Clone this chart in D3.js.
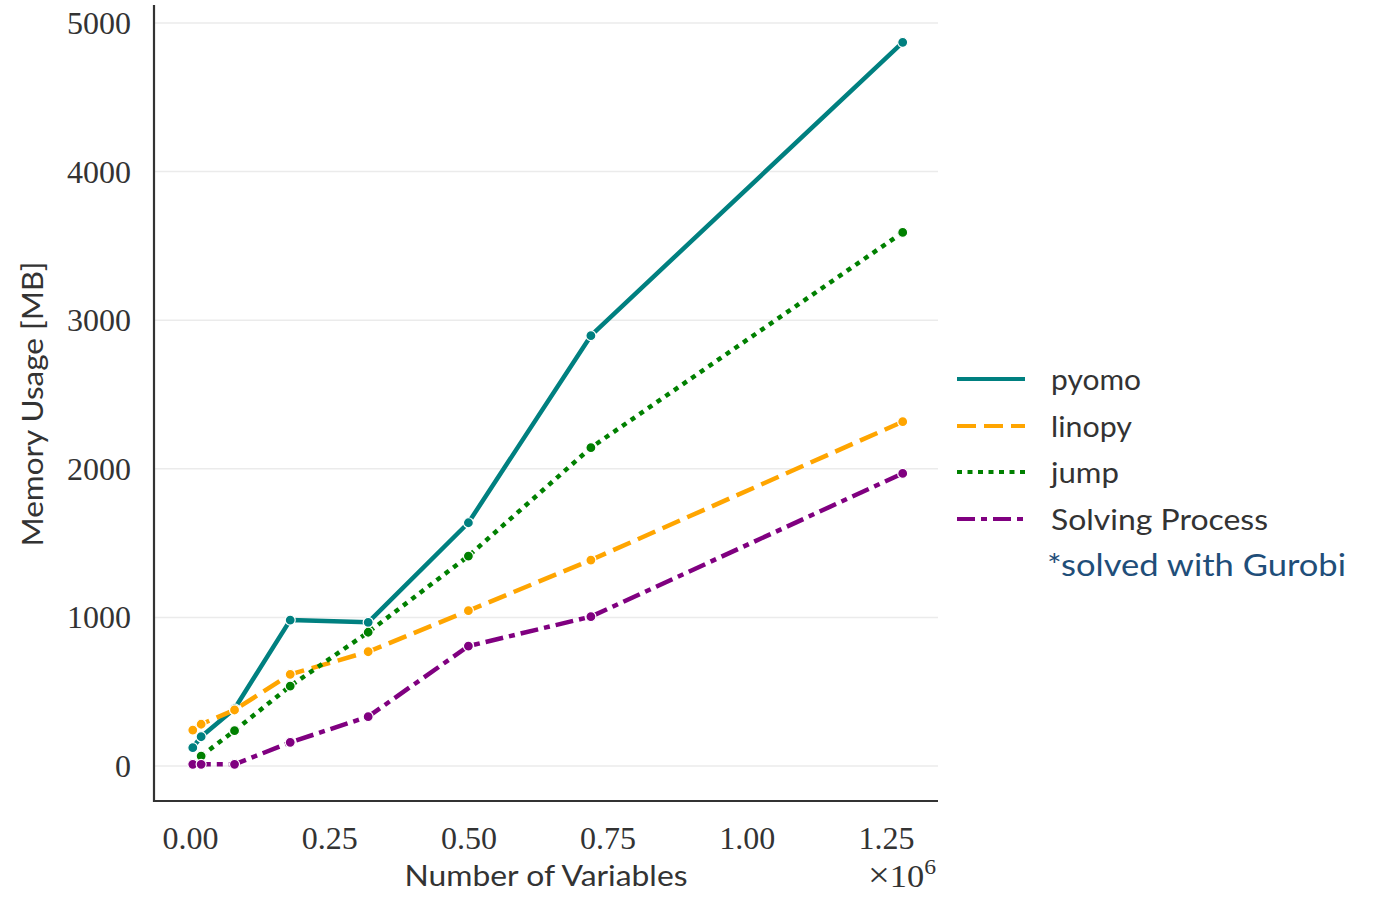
<!DOCTYPE html>
<html>
<head>
<meta charset="utf-8">
<script src="https://cdn.jsdelivr.net/npm/d3@7"></script>
<style>
  html, body { margin: 0; padding: 0; background: #fff; }
  svg { display: block; }
</style>
</head>
<body>
<svg id="chart" width="1383" height="900"></svg>
<script>
// ---- data ----
const nVariables = [5000, 20000, 80000, 180000, 320000, 500000, 720000, 1280000];
const pyomo   = [123, 197, 385, 982, 967, 1637, 2896, 4870];
const linopy  = [242, 281, 377, 617, 769, 1045, 1386, 2317];
const jumpX   = [20000, 80000, 180000, 320000, 500000, 720000, 1280000];
const jump    = [67, 238, 538, 900, 1413, 2142, 3591];
const solving = [11, 11, 11, 159, 332, 807, 1005, 1969];
const seriesNames = ["pyomo", "linopy", "jump", "Solving Process"];
const xTicks = [0, 250000, 500000, 750000, 1000000, 1250000];
const xTickLabels = ["0.00", "0.25", "0.50", "0.75", "1.00", "1.25"];
const yTicks = [0, 1000, 2000, 3000, 4000, 5000];
const note = "*solved with Gurobi";

// ---- layout ----
const plot = { left: 154, right: 938, top: 5, bottom: 801 };
const x = d3.scaleLinear().domain([0, 1250000]).range([190, 886]);
const y = d3.scaleLinear().domain([0, 5000]).range([766, 23]);

const styles = [
  { color: "#008080", dash: null },
  { color: "#FFA500", dash: "19,8" },
  { color: "#008000", dash: "5,5.5" },
  { color: "#800080", dash: "18,6,6,6" }
];
const series = [
  { name: seriesNames[0], xs: nVariables, ys: pyomo },
  { name: seriesNames[1], xs: nVariables, ys: linopy },
  { name: seriesNames[2], xs: jumpX, ys: jump },
  { name: seriesNames[3], xs: nVariables, ys: solving }
];

const svg = d3.select("#chart");
const serif = "'Liberation Serif', 'DejaVu Serif', serif";
const sans = "Lato, 'Open Sans', sans-serif";
const textColor = "#333333";

// grid
svg.append("g").selectAll("line").data(yTicks).join("line")
  .attr("x1", plot.left).attr("x2", plot.right)
  .attr("y1", d => y(d)).attr("y2", d => y(d))
  .attr("stroke", "#ebebeb").attr("stroke-width", 1.5);

// y tick labels via axis
const yAxis = svg.append("g").attr("transform", `translate(${plot.left},0)`)
  .call(d3.axisLeft(y).tickValues(yTicks).tickSize(0).tickPadding(23).tickFormat(d3.format("d")));
yAxis.select(".domain").remove();
yAxis.selectAll("text").attr("font-family", serif).attr("font-size", 32).attr("fill", textColor)
  .attr("dy", "0.33em");

// x tick labels via axis
const xAxis = svg.append("g").attr("transform", `translate(0,${plot.bottom})`)
  .call(d3.axisBottom(x).tickValues(xTicks).tickSize(0).tickPadding(26)
    .tickFormat((d, i) => xTickLabels[i]));
xAxis.select(".domain").remove();
xAxis.selectAll("text").attr("font-family", serif).attr("font-size", 32).attr("fill", textColor)
  .attr("dy", "0.68em");

// spines
svg.append("line").attr("x1", plot.left).attr("x2", plot.left).attr("y1", plot.top).attr("y2", plot.bottom + 1)
  .attr("stroke", "#333").attr("stroke-width", 2.2);
svg.append("line").attr("x1", plot.left - 1).attr("x2", plot.right).attr("y1", plot.bottom).attr("y2", plot.bottom)
  .attr("stroke", "#333").attr("stroke-width", 2.2);

// lines
const line = d3.line().x(d => x(d[0])).y(d => y(d[1]));
series.forEach((s, i) => {
  const pts = s.xs.map((v, k) => [v, s.ys[k]]);
  const g = svg.append("g");
  g.append("path").datum(pts).attr("d", line)
    .attr("fill", "none").attr("stroke", styles[i].color).attr("stroke-width", 4.5)
    .attr("stroke-dasharray", styles[i].dash)
    .attr("stroke-linejoin", "round");
  g.selectAll("circle").data(pts).join("circle")
    .attr("cx", d => x(d[0])).attr("cy", d => y(d[1])).attr("r", 5)
    .attr("fill", styles[i].color).attr("stroke", "#fff").attr("stroke-width", 1.2);
});

// axis titles
svg.append("text").attr("x", 546).attr("y", 886).attr("text-anchor", "middle")
  .attr("font-family", sans).attr("font-size", 28).attr("fill", textColor)
  .attr("textLength", 283).attr("lengthAdjust", "spacingAndGlyphs")
  .text("Number of Variables");
svg.append("text").attr("transform", "translate(43,404) rotate(-90)").attr("text-anchor", "middle")
  .attr("font-family", sans).attr("font-size", 28).attr("fill", textColor)
  .attr("textLength", 285).attr("lengthAdjust", "spacingAndGlyphs")
  .text("Memory Usage [MB]");

// offset text x10^6
const off = svg.append("text").attr("x", 868).attr("y", 887)
  .attr("font-family", serif).attr("font-size", 32).attr("fill", textColor)
  .attr("textLength", 68).attr("lengthAdjust", "spacingAndGlyphs");
off.append("tspan").attr("font-size", 36).text("×");
off.append("tspan").text("10");
off.append("tspan").attr("font-size", 22).attr("dy", -13).text("6");

// legend
const legY = [379, 426, 472, 519];
series.forEach((s, i) => {
  svg.append("line").attr("x1", 957).attr("x2", 1025).attr("y1", legY[i]).attr("y2", legY[i])
    .attr("stroke", styles[i].color).attr("stroke-width", 4)
    .attr("stroke-dasharray", styles[i].dash);
});
const legW = [90, 81, 68, 217];
series.forEach((s, i) => {
  svg.append("text").attr("x", 1051).attr("y", legY[i] + 11)
    .attr("font-family", sans).attr("font-size", 29).attr("fill", textColor)
    .attr("textLength", legW[i]).attr("lengthAdjust", "spacingAndGlyphs")
    .text(s.name);
});
svg.append("text").attr("x", 1047).attr("y", 576)
  .attr("font-family", sans).attr("font-size", 31).attr("fill", "#1F4E79")
  .attr("textLength", 299).attr("lengthAdjust", "spacingAndGlyphs")
  .text(note);
</script>
</body>
</html>
